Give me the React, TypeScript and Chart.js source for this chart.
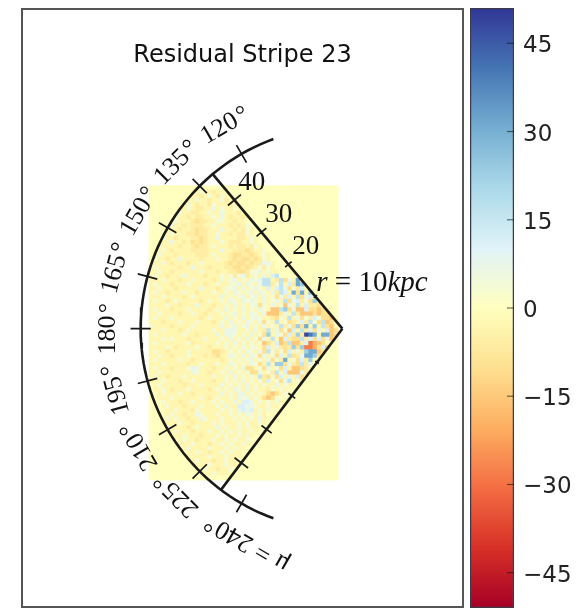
import React, { useEffect, useRef } from "react";
import { Chart, registerables } from "chart.js";

Chart.register(...registerables);

// ---- data ----
const TITLE = "Residual Stripe 23";
const COLORBAR_TICKS = [-45, -30, -15, 0, 15, 30, 45];
const COLOR_LIMIT = 51;
const RD_YL_BU = ["#a50026", "#d73027", "#f46d43", "#fdae61", "#fee090", "#ffffbf", "#e0f3f8", "#abd9e9", "#74add1", "#4575b4", "#313695"];
const ANGLE_TICKS = [120, 135, 150, 165, 180, 195, 210, 225, 240];
const RADIUS_TICKS = [5, 10, 20, 30, 40];
const RADIUS_LABELS = [20, 30, 40];
const R_MAX = 48;
const EDGE_TOP = 130;
const EDGE_BOTTOM = 233;
const ARC_START = 110;
const ARC_END = 250;

// code -> residual value
const LEVELS: Record<string, number> = {
  ".": 0, a: -3, b: -6, c: -10, d: -15, e: -20, f: -28, g: -38,
  "1": 4, "2": 7, "3": 11, "4": 16, "5": 23, "6": 31, "7": 40, "8": 48,
};
// rows run from y = 33.5 kpc downward, columns from x = -45.5 kpc rightward (1 kpc cells)
const CELL_ROWS = [
  ".....",
  "..... ..... .a1aa baa",
  "..... ..... aaba1 ab1a",
  "..... ....a a1aab aa1ba",
  "..... ...a1 abaab 1aaab",
  "..... ..aa1 abbaa 2a1aa",
  "..... .a1aa bbaa1 aa2aa ab",
  "..... a1aab abbaa 1a2ab aab",
  "....a a1aaa bcbba a11aa baa",
  "....a 2aaba bbbaa 1aaab aba1",
  "...1a aabaa bcbba aa2aa bab1a",
  "...aa 1aaab bcbba a1aab abb1a",
  "..a1a abaaa bbcba a2aaa abba1 a",
  "..aaa 2aaba cbcba aa1ab bbaa1 a",
  ".a1aa aabaa bcbba 1aaab abbab 1a",
  ".aa1a baaaa bbbba aa2aa bbbcb aa1",
  "aa1aa abaaa abbba 1aaab ccbbc ba1a",
  "a1aab aa2aa aabaa a1aab cbccb cb1a",
  "aaa1a baaab aa1aa aaabc bccbc bb22a",
  "a1aaa aabaa 2aaab aaabb ccbcb a1b1a",
  "aa1aa baaaa aa1aa abaab bccb1 12a1a a",
  "a1aab aaa2a aaaba aa1a1 b12ba 1a2a3 4",
  "aaa1a aabaa 1aaaa ba1a1 2a1a2 1244a b4c2a 65",
  "a1aaa baaa1 aaaba a1aa1 12a21 a244b 14a3b 65a",
  "aa1aa abaaa aa2aa aba11 2a2a1 21a3a 342c1 b3a",
  "a1aab aaa1a abaaa 1aa1a 21a12 a21a2 b43a6 c6a5",
  "aaa1a aaaba 1aaaa aa2a1 a12a1 2a2a1 c2b3a 4c23",
  "a1aab a1aaa aaba1 aa1a2 1a212 1a2a1 2a4c2 3b1c5",
  "aaaa1 aabaa a2aaa baa1a 2a1a1 2c1a2 a1d2a 4a3bb c",
  "a1aaa baaa1 aaaab a1a2a 1a2a1 a21ad d45c2 dd3cc dc",
  "aa1aa aabaa 1aaba aa1a1 2a1a2 1a2dd db2a4 bdddc dcc",
  "a1aaa 1aaaa aaba1 aaa2a 1a2a1 21aab c1a4a 2c1b3 1ccd",
  "aaaba aa1aa a1aaa ba1a2 a1a21 a2c1a 4a1cb a3b41 c4dc",
  "1aaaa baaaa 1aaaa aa2a1 2a12a 1a2a1 a4b2c 5c6a5 a4cda",
  "aaa1a aaba1 aaaaa 1aa22 2aa1a 2ab4a 2c1d3 a4b3c 2a3dc",
  "a1aaa aaa1a abaaa a2a22 1a1a2 a1c5a 21c3b 5b876 a66dc",
  "aaa1a 1aaab aaa1a aa1a2 a1a2a 1c2a4 ad3bc c4b3c 3c2d",
  "a1aaa aaaa1 baaaa a1a1a 2a1a1 a1dca 3dc4d db3fe dc",
  "aaaa1 abaaa a1aab aaa1a 1a2a1 1ac3a 2bcb5 c5ffe c3d",
  "a1aab aaaa1 aaaaa ccba1 a1a21 a2c41 b1c3a 2b566 dc",
  "aa1aa baaa1 aaaba bcaa2 1a2a2 1c2a1 c3a4c b2665 c",
  "a1aaa aa1aa baaaa aaba1 a1a12 a1a2c 1b6a1 c3b5",
  "aaa1a aaaab aa1aa a1aa2 1a1a2 1ca4a 55c2b c4b2",
  "a1aaa baaa1 22aaa baa1a 1a2cc a1c2a 1c3ad dcb",
  "aa1aa aaaaa 21aab aa1a2 a1a1c c2a1b 4a3dd d2b",
  "a1aab aaa1a aaaaa 1aa1a 2a1a1 a4bc1 c3a2a 3c",
  "aaa1a aabaa 1aaaa baa1a 1a2a1 a1b3a 1c24a 1b",
  ".a1aa aaaba aa1aa aa2a1 a1a2a 1a1aa 2a1aa",
  ".aa1a baaa1 aaaab a1a1a 21a2a 1aab1 a1a",
  "..a1a aa1aa baaaa aa2a1 a22a1 a1acd ca1a",
  "..aaa 1aaaa aa1ab a1aa1 a212a 1acdc 1",
  "...1a aabaa 1aaaa 1a1aa 2a332 a1a1a 1a",
  "...a1 aaaba aa1aa a1a2a a3322 1aa1a a",
  "....a a1aaa b1aaa aa1a1 a2323 a1a1",
  "....a 1aaba a21aa a1aa1 a1a21 a1a",
  "...a1 a1aab aa21a aa1aa 1a1a1 a2a",
  "....a aa1aa baaaa 1a1aa a1a1a a1a",
  "....1 aaaab a1aaa a2a1a a1a1a a",
  "..... a1aaa baaa1 aa1a1 a1aa1 a",
  "..... .aa1a aabaa a1a1a a1a1a",
  "..... ..a1a abaaa 1aa1a 1aa1",
  "..... ..aaa 1aaab aa1a1 aa1a",
  "..... ...a1 aaaa1 aaa1a 1aa",
  "..... ....a a1aab aa1a1 aa",
  "..... ....a aaaa1 aaa1a aa",
  "..... ..... a1aaa baa1a a",
  "..... ..... .aaa1 aaa1a a",
  "..... ..... ..a1a abaa1",
  "..... ..... ...aa 1aaa",
  ".....",
];
const GRID_COLUMNS = 45;

// ---- helpers ----
const polar = (r: number, l: number) => ({
  x: r * Math.cos((l * Math.PI) / 180),
  y: r * Math.sin((l * Math.PI) / 180),
});
const gap = { x: NaN, y: NaN };

function hexToRgb(h: string) {
  return [1, 3, 5].map((i) => parseInt(h.slice(i, i + 2), 16));
}
function colorFor(v: number) {
  const t = Math.min(1, Math.max(0, (v + COLOR_LIMIT) / (2 * COLOR_LIMIT))) * (RD_YL_BU.length - 1);
  const i = Math.min(RD_YL_BU.length - 2, Math.floor(t));
  const a = hexToRgb(RD_YL_BU[i]);
  const b = hexToRgb(RD_YL_BU[i + 1]);
  const f = t - i;
  return `rgb(${a.map((c, k) => Math.round(c + (b[k] - c) * f)).join(",")})`;
}
function inWedge(x: number, y: number) {
  const r = Math.hypot(x, y);
  const raw = (Math.atan2(y, x) * 180) / Math.PI;
  const l = raw < 0 ? raw + 360 : raw;
  return r < R_MAX && l > EDGE_TOP && l < EDGE_BOTTOM;
}

function buildCells() {
  const points: { x: number; y: number }[] = [];
  const colors: string[] = [];
  CELL_ROWS.forEach((row, R) => {
    const codes = row.replace(/ /g, "");
    for (let c = 0; c < GRID_COLUMNS; c++) {
      const x = -45.5 + c;
      const y = 33.5 - R;
      const value = inWedge(x, y) ? LEVELS[codes[c] ?? "."] ?? 0 : 0;
      points.push({ x, y });
      colors.push(colorFor(value));
    }
  });
  return { points, colors };
}

function buildArc() {
  const pts = [];
  for (let l = ARC_START; l <= ARC_END; l += 2) pts.push(polar(R_MAX, l));
  return pts;
}
function buildTicks() {
  const pts: { x: number; y: number }[] = [];
  ANGLE_TICKS.forEach((l) => pts.push(polar(R_MAX - 2.4, l), polar(R_MAX + 2.4, l), gap));
  [EDGE_TOP, EDGE_BOTTOM].forEach((e) =>
    RADIUS_TICKS.forEach((r) => pts.push(polar(r, e - 2.9), polar(r, e + 2.9), gap))
  );
  return pts;
}

const MATH_FONT = '"Liberation Serif", serif';
const SANS = '"DejaVu Sans", sans-serif';

const wedgeText = {
  id: "wedgeText",
  afterDraw(chart: any) {
    const { ctx, scales } = chart;
    const px = (p: { x: number; y: number }) => [scales.x.getPixelForValue(p.x), scales.y.getPixelForValue(p.y)];
    ctx.save();
    // frame
    ctx.strokeStyle = "#555";
    ctx.lineWidth = 2;
    ctx.strokeRect(22, 9, 441, 598);
    // title
    ctx.fillStyle = "#111";
    ctx.font = `24px ${SANS}`;
    ctx.textAlign = "center";
    ctx.textBaseline = "middle";
    ctx.fillText(TITLE, 242.5, 55.5);
    // angle labels
    ctx.font = `26px ${MATH_FONT}`;
    ANGLE_TICKS.forEach((l) => {
      const last = l === ANGLE_TICKS[ANGLE_TICKS.length - 1];
      const [x, y] = px(polar(56, last ? 246 : l));
      ctx.save();
      ctx.translate(x, y);
      ctx.rotate((-(l - 90) * Math.PI) / 180);
      ctx.fillText(`${last ? "\u03BC = " : ""}${l}\u200A\u00B0`, 0, 1);
      ctx.restore();
    });
    // radius labels
    ctx.textAlign = "left";
    ctx.font = `27px ${MATH_FONT}`;
    RADIUS_LABELS.forEach((r) => {
      const [x, y] = px(polar(r, EDGE_TOP));
      ctx.fillText(String(r), x + 4, y - 17);
    });
    const [x0, y0] = px(polar(10, EDGE_TOP));
    let cx = x0 + 1;
    const cy = y0 - 13;
    const parts: [string, string][] = [
      ["r", "italic"],
      [" = ", "normal"],
      ["10", "normal"],
      ["kpc", "italic"],
    ];
    parts.forEach(([t, style]) => {
      ctx.font = `${style} 29px ${MATH_FONT}`;
      ctx.fillText(t, cx, cy);
      cx += ctx.measureText(t).width;
    });
    ctx.restore();
  },
};

const colorbarTicks = {
  id: "colorbarTicks",
  afterDraw(chart: any) {
    const { ctx, scales, chartArea } = chart;
    ctx.save();
    ctx.strokeStyle = "rgba(20,20,20,0.6)";
    ctx.lineWidth = 1.2;
    ctx.fillStyle = "#222";
    ctx.font = `23px ${SANS}`;
    ctx.textAlign = "left";
    ctx.textBaseline = "alphabetic";
    COLORBAR_TICKS.forEach((v) => {
      const y = scales.y.getPixelForValue(v);
      ctx.beginPath();
      ctx.moveTo(chartArea.right - 7, y);
      ctx.lineTo(chartArea.right, y);
      ctx.stroke();
      ctx.fillText(String(v).replace("-", "\u2212"), chartArea.right + 9, y + 9);
    });
    ctx.restore();
  },
};

export default function App() {
  const mainRef = useRef<HTMLCanvasElement>(null);
  const barRef = useRef<HTMLCanvasElement>(null);

  useEffect(() => {
    const { points, colors } = buildCells();
    const lineBase = { showLine: true, pointRadius: 0, tension: 0, borderColor: "#1a1a1a", order: 0 };
    const main = new Chart(mainRef.current!, {
      type: "scatter",
      data: {
        datasets: [
          { data: buildArc(), borderWidth: 2.6, ...lineBase },
          { data: [polar(0, EDGE_TOP), polar(R_MAX, EDGE_TOP)], borderWidth: 2.6, ...lineBase },
          { data: [polar(0, EDGE_BOTTOM), polar(R_MAX, EDGE_BOTTOM)], borderWidth: 2.6, ...lineBase },
          { data: buildTicks(), borderWidth: 1.7, spanGaps: false, ...lineBase },
          {
            data: points,
            pointStyle: "rect",
            pointRadius: 3.5,
            pointBorderWidth: 0,
            pointBackgroundColor: colors,
            showLine: false,
            order: 1,
          },
        ],
      } as any,
      options: {
        responsive: false,
        animation: false,
        events: [],
        layout: { padding: 0 },
        plugins: { legend: { display: false }, tooltip: { enabled: false } },
        scales: {
          x: { type: "linear", display: false, min: -80.52, max: 57.51 },
          y: { type: "linear", display: false, min: -66.67, max: 77.23 },
        },
      },
      plugins: [wedgeText],
    });

    const bar = new Chart(barRef.current!, {
      type: "bar",
      data: {
        labels: ["residual"],
        datasets: [
          {
            data: [[-COLOR_LIMIT, COLOR_LIMIT]],
            barPercentage: 1,
            categoryPercentage: 1,
            borderWidth: 1.6,
            borderColor: "#3a3a4a",
            borderSkipped: false,
            backgroundColor: (c: any) => {
              const { ctx, chartArea } = c.chart;
              if (!chartArea) return RD_YL_BU[5];
              const g = ctx.createLinearGradient(0, chartArea.bottom, 0, chartArea.top);
              RD_YL_BU.forEach((col, i) => g.addColorStop(i / (RD_YL_BU.length - 1), col));
              return g;
            },
          },
        ],
      } as any,
      options: {
        responsive: false,
        animation: false,
        events: [],
        layout: { padding: { top: 8, bottom: 5, left: 5, right: 0 } },
        plugins: { legend: { display: false }, tooltip: { enabled: false } },
        scales: {
          x: { display: false, offset: true },
          y: {
            position: "right",
            min: -COLOR_LIMIT,
            max: COLOR_LIMIT,
            grid: { display: false, drawTicks: false },
            border: { display: false },
            afterFit: (s: any) => {
              s.width = 74;
              s.paddingTop = 0;
              s.paddingBottom = 0;
            },
            ticks: { display: false },
          },
        },
      } as any,
      plugins: [colorbarTicks],
    });
    return () => {
      main.destroy();
      bar.destroy();
    };
  }, []);

  return (
    <div style={{ position: "absolute", left: 0, top: 0, width: 588, height: 613, overflow: "hidden", background: "#fff", filter: "blur(0.6px)" }}>
      <canvas ref={mainRef} width={588} height={613} style={{ position: "absolute", left: 0, top: 0 }} />
      <canvas ref={barRef} width={123} height={613} style={{ position: "absolute", left: 465, top: 0 }} />
    </div>
  );
}
